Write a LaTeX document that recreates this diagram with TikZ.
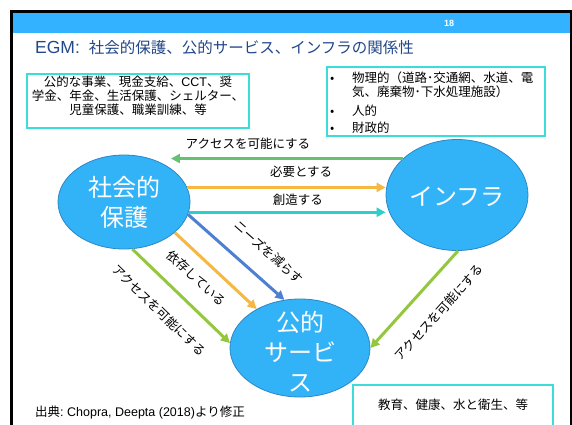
\documentclass[tikz,border=0pt]{standalone}
\usepackage{fontspec}
\setmainfont{Noto Sans CJK JP}
\newfontfamily\lat{Liberation Sans}
\usetikzlibrary{arrows.meta,shapes.geometric}
\definecolor{band}{HTML}{33B3FF}
\definecolor{ellfill}{HTML}{33B3F7}
\definecolor{elldraw}{HTML}{2B86C6}
\definecolor{boxcyan}{HTML}{3CDCD8}
\definecolor{titleblue}{HTML}{23488A}
\definecolor{agreen}{HTML}{66C172}
\definecolor{aorange}{HTML}{F4B843}
\definecolor{acyan}{HTML}{2DCFC8}
\definecolor{ablue}{HTML}{4D80D2}
\definecolor{aygreen}{HTML}{93C83E}
\tikzset{
 ell/.style={ellipse, fill=ellfill, draw=elldraw, line width=0.8pt, inner sep=0pt},
 etext/.style={text=white, align=center, inner sep=0pt, font=\fontsize{24}{30}\selectfont},
 cframe/.style={draw=boxcyan, line width=1.6pt, inner sep=0pt},
 btext/.style={inner sep=0pt, text=black, font=\fontsize{12.5}{14}\selectfont},
 conn/.style={line width=3pt, -{Triangle[length=9pt,width=9pt]}},
 lbl/.style={inner sep=0pt, text=black, font=\fontsize{12.5}{14}\selectfont},
}
\begin{document}
\begin{tikzpicture}[x=1pt,y=-1pt]
\useasboundingbox (0,0) rectangle (572,424);
\clip (0,0) rectangle (572,424);
\fill[white] (0,0) rectangle (572,424);
\fill[band] (13,13) rectangle (570,33);
\draw[line width=3pt] (11.5,430) -- (11.5,11.5) -- (571,11.5) -- (571,430);
\node[text=white, font=\lat\bfseries\fontsize{9}{10}\selectfont, inner sep=0pt] (pg) at (449,23) {18};
\node[anchor=west, text=titleblue, inner sep=0pt] (title) at (35,48) {{\lat\fontsize{17.5}{20}\selectfont EGM:}\hspace{9pt}{\fontsize{15.5}{18}\selectfont 社会的保護、公的サービス、インフラの関係性}};

% boxes
\node[cframe, minimum width=222pt, minimum height=54pt] (b1) at (138,101) {};
\node[btext, align=center] (t1) at (138,96) {公的な事業、現金支給、{\lat CCT}、奨\\学金、年金、生活保護、シェルター、\\児童保護、職業訓練、等};
\node[cframe, minimum width=218pt, minimum height=69pt] (b2) at (436,101.5) {};
\node[btext, align=left, anchor=west] (t2) at (330,103) {\makebox[22pt][l]{•}物理的（道路･交通網、水道、電\\\hspace*{22pt}気、廃棄物･下水処理施設）\\[5pt]\makebox[22pt][l]{•}人的\\[3pt]\makebox[22pt][l]{•}財政的};
\node[cframe, minimum width=200pt, minimum height=60pt, anchor=north] (b3) at (453,384) {};
\node[btext] (t3) at (453,405) {教育、健康、水と衛生、等};
\node[btext, anchor=west] (src) at (35,413) {出典{\lat :\ Chopra, Deepta (2018)}より修正};

% ellipses
\node[ell, minimum width=132pt, minimum height=94pt, label={[etext]center:社会的\\保護}] (S) at (124,202) {};
\node[ell, minimum width=142pt, minimum height=111pt, label={[etext, yshift=-2pt]center:インフラ}] (I) at (457,195) {};
\node[ell, minimum width=140pt, minimum height=98pt, label={[etext, yshift=-4pt]center:公的\\サービ\\ス}] (P) at (300,348) {};

% connectors
\draw[conn, agreen] (I.146) -- (I.146 -| S.north east) node[lbl, pos=.668, above=8pt] (l1) {アクセスを可能にする};
\draw[conn, aorange] (S.13.5) -- (S.13.5 -| I.west) node[lbl, pos=.574, above=8pt] (l2) {必要とする};
\draw[conn, acyan] (S.-9) -- (S.-9 -| I.west) node[lbl, pos=.554, above=5pt] (l3) {創造する};
\draw[conn, ablue] (S.-11) -- (P.108) node[lbl, sloped, pos=.663, above=18pt] (l4) {ニーズを減らす};
\draw[conn, aorange] (S.-31) -- (P.138) node[lbl, sloped, pos=.42, below=11.5pt] (l5) {依存している};
\draw[conn, aygreen] (S.-80) -- (P.176) node[lbl, sloped, pos=.457, below=18pt] (l6) {アクセスを可能にする};
\draw[conn, aygreen] (I.-89) -- (P.east) node[lbl, sloped, pos=.447, below=20pt] (l7) {アクセスを可能にする};
\end{tikzpicture}
\end{document}
